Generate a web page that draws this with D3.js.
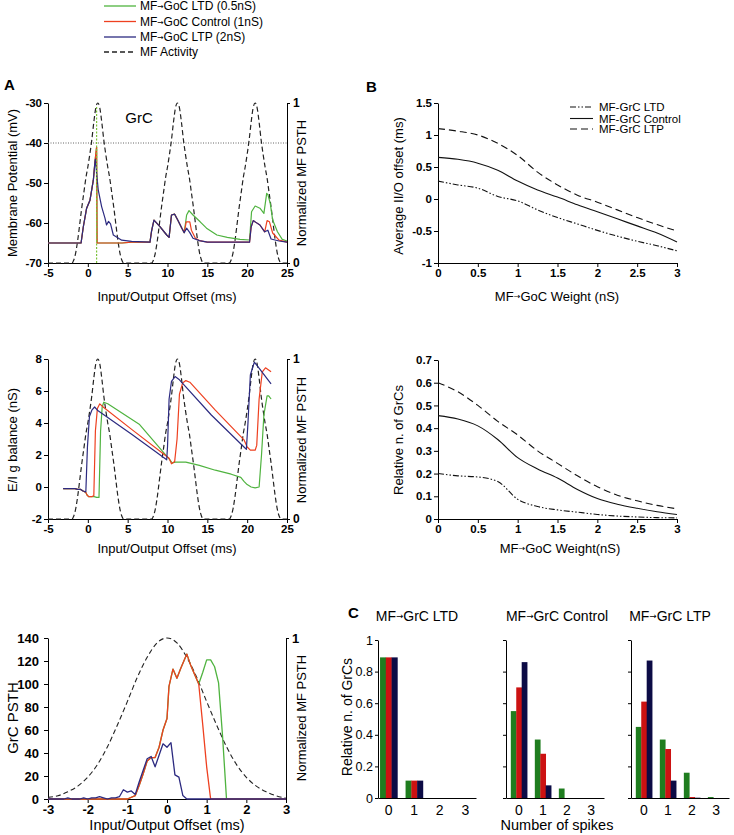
<!DOCTYPE html>
<html><head><meta charset="utf-8">
<script src="https://cdn.jsdelivr.net/npm/d3@7"></script>
<style>body{margin:0;background:#fff}svg{display:block}</style>
</head><body><svg id="c" width="734" height="835"></svg>
<script>
// ---------------- DATA ----------------
const legendLabels = ["MF\u2192GoC LTD (0.5nS)", "MF\u2192GoC Control (1nS)", "MF\u2192GoC LTP (2nS)", "MF Activity"];
const offsetTicks = [-5, 0, 5, 10, 15, 20, 25];
const vmTicks = [-70, -60, -50, -40, -30];
const gTicks = [-2, 0, 2, 4, 6, 8];
const psthTicks = [0, 20, 40, 60, 80, 100, 120, 140];
const psthOffsetTicks = [-3, -2, -1, 0, 1, 2, 3];
const threshold = -40;
const greenSpikeTime = 1.1;

// MF activity (normalized PSTH), time in ms
const mfActivity = [[-5,0],[-2.0,0],[-1.75,0.02],[-1.5,0.07],[-1.25,0.15],[-1.0,0.25],[-0.75,0.35],[-0.5,0.44],[-0.25,0.53],[0,0.6],[0.25,0.68],[0.5,0.77],[0.75,0.88],[1.0,0.97],[1.25,1.0],[1.5,0.97],[1.75,0.88],[2.0,0.77],[2.25,0.68],[2.5,0.6],[2.75,0.53],[3.0,0.44],[3.25,0.35],[3.5,0.25],[3.75,0.15],[4.0,0.07],[4.25,0.02],[4.5,0],
  [8.0,0],[8.25,0.02],[8.5,0.07],[8.75,0.15],[9.0,0.25],[9.25,0.35],[9.5,0.44],[9.75,0.53],[10,0.6],[10.25,0.68],[10.5,0.77],[10.75,0.88],[11,0.97],[11.25,1],[11.5,0.97],[11.75,0.88],[12,0.77],[12.25,0.68],[12.5,0.6],[12.75,0.53],[13,0.44],[13.25,0.35],[13.5,0.25],[13.75,0.15],[14,0.07],[14.25,0.02],[14.5,0],
  [17.75,0],[18,0.02],[18.25,0.07],[18.5,0.15],[18.75,0.25],[19,0.35],[19.25,0.44],[19.5,0.53],[19.75,0.6],[20,0.68],[20.25,0.77],[20.5,0.88],[20.75,0.97],[21,1],[21.25,0.97],[21.5,0.88],[21.75,0.77],[22,0.68],[22.25,0.6],[22.5,0.53],[22.75,0.44],[23,0.35],[23.25,0.25],[23.5,0.15],[23.75,0.07],[24,0.02],[24.25,0],[25,0]];

// Membrane potential traces (ms, mV)
const vmStart = [[-5,-65],[-0.85,-65],[-0.57,-61],[-0.15,-56.3],[0.27,-54.3],[0.69,-49.3],[0.9,-44.6]];
const vmMiddle = [[7.8,-64.8],[8.0,-62],[8.3,-59.3],[9.05,-60.9],[9.9,-63],[10.2,-63.6],[10.5,-58],[10.9,-57.8],[11.3,-59.3],[11.8,-61.3],[12.1,-62.4]];
const vmBlue = vmStart.concat([[0.95,-44],[1.1,-47.5],[1.31,-51.8],[1.73,-55.9],[2.15,-58.8],[2.35,-60.5],[2.6,-59.6],[2.85,-60.2],[3.2,-63],[4.25,-64.3],[5.5,-64.6]], vmMiddle,
  [[12.4,-61.3],[12.8,-62.4],[13.2,-63.8],[14.0,-64.4],[15,-64.8],[20.3,-64.8],[20.5,-61],[20.76,-59.4],[21.6,-60.5],[22.2,-62.2],[22.6,-61.8],[23.0,-64.0],[24.0,-64.5],[25,-64.8]]);
const vmRed = vmStart.concat([[1.1,-41],[1.16,-65],[4.3,-65],[5.5,-64.8]], vmMiddle,
  [[12.35,-59.7],[12.8,-59.7],[13.0,-61.8],[13.5,-63.8],[14.0,-64.4],[15,-64.8],[20.3,-64.8],[20.5,-61],[20.76,-59.4],[21.6,-60.5],[22.2,-62.2],[22.5,-59.4],[22.8,-59.7],[23.2,-62.5],[24.0,-64.3],[25,-64.8]]);
const vmGreen = vmStart.concat([[1.1,-41],[1.16,-65],[4.3,-65],[5.5,-64.8]], vmMiddle,
  [[12.4,-58],[12.7,-56.9],[13.2,-58],[14.1,-59.7],[14.9,-61.3],[16.2,-63],[17.5,-63.6],[19.1,-64.1],[20.3,-64.25],[20.55,-57.2],[21.0,-55.75],[21.6,-56.3],[22.1,-57.6],[22.45,-52.6],[22.6,-52.9],[22.9,-55.1],[23.2,-59.25],[23.8,-62.2],[24.4,-64.1],[25,-64.5]]);

// E/I g balance (ms, nS)
const gBlue = [[-3.1,-0.1],[-1.6,-0.1],[-1.3,-0.15],[-0.9,-0.15],[-0.6,-0.25],[-0.25,-0.3],[-0.05,2.5],[0.2,4.4],[0.5,4.8],[0.85,5.0],[1.2,4.8],[5.5,3.3],[9.9,1.7],[10.0,2.5],[10.2,5.5],[10.5,6.6],[10.95,6.9],[11.5,6.7],[15.5,4.5],[19.6,2.5],[19.9,2.35],[20.1,4.0],[20.4,7.0],[20.9,7.8],[21.3,7.55],[23.0,6.45]];
const gRed = [[-3.1,-0.1],[-1.6,-0.1],[-1.3,-0.15],[-0.9,-0.15],[-0.6,-0.25],[-0.25,-0.35],[-0.1,-0.5],[0.1,-0.6],[0.5,-0.6],[0.75,-0.55],[0.95,3.5],[1.2,4.9],[1.5,5.2],[1.8,5.05],[5.5,3.6],[10.2,1.8],[10.5,1.45],[10.9,1.6],[11.2,3.0],[11.5,5.8],[11.9,6.5],[12.3,6.65],[12.8,6.55],[16,4.8],[19.6,2.95],[20.0,2.5],[20.4,2.3],[21.0,2.3],[21.2,2.6],[21.5,5.5],[21.9,7.2],[22.3,7.45],[23.0,7.2]];
const gGreen = [[-3.1,-0.1],[-1.6,-0.1],[-1.3,-0.15],[-0.9,-0.15],[-0.6,-0.25],[-0.25,-0.35],[-0.1,-0.5],[0.1,-0.6],[0.5,-0.6],[0.8,-0.6],[1.1,-0.65],[1.4,-0.65],[1.6,3.5],[1.8,5.0],[2.0,5.3],[2.5,5.2],[6.5,3.9],[10.3,1.7],[10.6,1.5],[11,1.55],[12.3,1.55],[14,1.35],[16,1.05],[18,0.8],[19.2,0.6],[19.6,0.35],[20.0,0.15],[20.5,0.0],[21.0,-0.05],[21.5,0.0],[21.8,2.0],[22.1,4.5],[22.5,5.7],[22.7,5.7],[23.0,5.5]];

// GrC PSTH (ms, count) and MF PSTH (normalized)
const mfPsth = [[-3,0.01],[-2.75,0.02],[-2.5,0.045],[-2.25,0.08],[-2,0.135],[-1.75,0.215],[-1.5,0.325],[-1.25,0.46],[-1,0.605],[-0.75,0.755],[-0.5,0.88],[-0.25,0.97],[0,1.0],[0.25,0.97],[0.5,0.88],[0.75,0.755],[1,0.605],[1.25,0.46],[1.5,0.325],[1.75,0.215],[2,0.135],[2.25,0.08],[2.5,0.045],[2.75,0.02],[3,0.005]];
const psthBlue = [[-3,0],[-2.9,0],[-2.8,0],[-2.7,0],[-2.6,0],[-2.5,1],[-2.4,0],[-2.3,0],[-2.2,0],[-2.1,1],[-2.0,0],[-1.9,1],[-1.8,1],[-1.7,2],[-1.6,1],[-1.5,0],[-1.4,1],[-1.3,1],[-1.2,2],[-1.1,8],[-1.0,6],[-0.9,7],[-0.8,4],[-0.7,15],[-0.6,25],[-0.5,35],[-0.4,37],[-0.3,28],[-0.2,38],[-0.1,48],[0,45],[0.1,49],[0.2,21],[0.3,19],[0.4,3],[0.5,0],[3,0]];
const psthRed = [[-3,0],[-1.0,0],[-0.8,3],[-0.7,12],[-0.6,22],[-0.5,33],[-0.4,36],[-0.3,36],[-0.2,45],[-0.1,60],[0,70],[0.05,98],[0.15,113],[0.25,105],[0.35,114],[0.5,126],[0.6,116],[0.7,108],[0.8,100],[0.9,65],[1.0,28],[1.1,0],[3,0]];
const psthGreen = [[-3,0],[-1.0,0],[-0.8,3],[-0.7,12],[-0.6,22],[-0.5,33],[-0.4,36],[-0.3,36],[-0.2,45],[-0.1,60],[0,70],[0.05,98],[0.15,113],[0.25,105],[0.35,114],[0.5,126],[0.6,116],[0.7,108],[0.8,100],[0.9,110],[1.0,121],[1.1,121],[1.2,115],[1.3,101],[1.4,55],[1.5,0],[3,0]];

// Panel B (MF->GoC weight, nS)
const weights = [0,0.25,0.5,0.75,1,1.25,1.5,1.75,2,2.25,2.5,2.75,3];
const weightTicks = [0,0.5,1,1.5,2,2.5,3];
const offsetLTD = [0.28,0.22,0.17,0.04,-0.03,-0.17,-0.29,-0.39,-0.49,-0.58,-0.66,-0.73,-0.81];
const offsetControl = [0.65,0.62,0.56,0.45,0.28,0.14,0.03,-0.09,-0.2,-0.31,-0.42,-0.53,-0.67];
const offsetLTP = [1.10,1.06,1.0,0.87,0.68,0.42,0.22,0.06,-0.05,-0.17,-0.29,-0.4,-0.5];
const fracLTD = [0.2,0.19,0.185,0.165,0.087,0.055,0.04,0.03,0.02,0.013,0.009,0.006,0.005];
const fracControl = [0.455,0.44,0.41,0.35,0.27,0.22,0.18,0.13,0.09,0.065,0.047,0.032,0.02];
const fracLTP = [0.6,0.56,0.5,0.43,0.37,0.3,0.245,0.19,0.142,0.105,0.08,0.06,0.045];
const bLegend = ["MF-GrC LTD", "MF-GrC Control", "MF-GrC LTP"];

// Panel C: fraction of GrCs by number of spikes
const spikeCounts = ["0","1","2","3"];
const cTitles = ["MF\u2192GrC LTD", "MF\u2192GrC Control", "MF\u2192GrC LTP"];
const barsLTD = { green: [0.89,0.11,0,0], red: [0.89,0.11,0,0], navy: [0.89,0.11,0,0] };
const barsControl = { green: [0.55,0.37,0.06,0], red: [0.70,0.28,0,0], navy: [0.86,0.08,0,0] };
const barsLTP = { green: [0.45,0.37,0.16,0.006], red: [0.61,0.31,0.006,0], navy: [0.87,0.11,0.002,0] };

// ---------------- DRAW ----------------
const F = '"Liberation Sans", Arial, Helvetica, sans-serif';
const COL = { green: "#4fb33f", red: "#ee4020", blue: "#2c2a80" };
const BAR = { green: "#1f7d1f", red: "#cc1212", navy: "#0c0b45" };
const fmt = d => String(d);
const svg = d3.select("#c").attr("font-family", F);

function text(x, y, s, o = {}) {
  const t = svg.append("text").attr("x", x).attr("y", y)
    .attr("font-size", o.size || 13).attr("font-weight", o.bold ? "bold" : "normal")
    .attr("text-anchor", o.anchor || "middle").attr("dominant-baseline", o.base || "central").attr("fill", "#000");
  const parts = s.split("\u2192");
  parts.forEach((p, i) => {
    if (i > 0) t.append("tspan").attr("font-size", (o.size || 13) * 0.62).attr("font-family", "DejaVu Sans").text("\u2192");
    t.append("tspan").text(p);
  });
  if (o.rot) t.attr("transform", `rotate(${o.rot},${x},${y})`);
  return t;
}
function styleAxis(g, size, bold) {
  g.attr("font-family", F).attr("font-size", size);
  g.selectAll("text").attr("font-weight", bold ? "bold" : "normal").attr("fill", "#000");
  g.selectAll("line,path").attr("stroke", "#000").attr("stroke-width", 1);
}
function pathLine(data, x, y, color, w, dash, curve) {
  const ln = d3.line().x(d => x(d[0])).y(d => y(d[1])).curve(curve || d3.curveLinear);
  const p = svg.append("path").datum(data).attr("d", ln).attr("fill", "none")
    .attr("stroke", color).attr("stroke-width", w).attr("stroke-linejoin", "round");
  if (dash) p.attr("stroke-dasharray", dash);
  return p;
}

// Top legend
legendLabels.forEach((l, i) => {
  const yy = [6, 21.5, 37, 52][i];
  const c = [COL.green, COL.red, COL.blue, "#222"][i];
  svg.append("line").attr("x1", 104).attr("x2", 136).attr("y1", yy).attr("y2", yy)
    .attr("stroke", c).attr("stroke-width", 1.3).attr("stroke-dasharray", i === 3 ? "5,3" : null);
  text(140, yy, l, { size: 12, anchor: "start" });
});

// Panel labels
text(4, 84, "A", { size: 15, bold: true, anchor: "start" });
text(366, 86, "B", { size: 15, bold: true, anchor: "start" });
text(348, 612, "C", { size: 15, bold: true, anchor: "start" });

// ---- A1 membrane potential ----
const xA = d3.scaleLinear().domain([-5, 25]).range([48, 287]);
const yA1 = d3.scaleLinear().domain([-70, -30]).range([263, 103]);
const yA1r = d3.scaleLinear().domain([0, 1]).range([263, 103]);
styleAxis(svg.append("g").attr("transform", "translate(48,0)").call(d3.axisLeft(yA1).tickValues(vmTicks).tickFormat(fmt).tickSize(4).tickSizeOuter(0).tickPadding(2)), 11.5, true);
styleAxis(svg.append("g").attr("transform", "translate(0,263)").call(d3.axisBottom(xA).tickValues(offsetTicks).tickFormat(fmt).tickSize(4).tickSizeOuter(0).tickPadding(2)), 11.5, true);
styleAxis(svg.append("g").attr("transform", "translate(287,0)").call(d3.axisRight(yA1r).tickValues([0, 1]).tickFormat(fmt).tickSize(3).tickSizeOuter(0).tickPadding(3)), 12, true);
svg.append("line").attr("x1", xA(-5)).attr("x2", xA(25)).attr("y1", yA1(threshold)).attr("y2", yA1(threshold))
  .attr("stroke", "#666").attr("stroke-dasharray", "1,1.5").attr("stroke-width", 1);
pathLine(mfActivity, xA, yA1r, "#222", 1.2, "5,3", d3.curveMonotoneX);
pathLine(vmGreen, xA, yA1, COL.green, 1.2);
pathLine(vmRed, xA, yA1, COL.red, 1.2);
pathLine(vmBlue, xA, yA1, COL.blue, 1.2);
svg.append("line").attr("x1", xA(greenSpikeTime)).attr("x2", xA(greenSpikeTime)).attr("y1", yA1(-70)).attr("y2", yA1(-31))
  .attr("stroke", "#7cc23a").attr("stroke-width", 1.2).attr("stroke-dasharray", "2,1.5");
text(139, 117, "GrC", { size: 15 });
text(12, 183, "Membrane Potential (mV)", { size: 13, rot: -90 });
text(301, 183, "Normalized MF PSTH", { size: 13, rot: -90 });
text(167, 296, "Input/Output Offset (ms)", { size: 13 });

// ---- A2 E/I balance ----
const yA2 = d3.scaleLinear().domain([-2, 8]).range([519, 359]);
const yA2r = d3.scaleLinear().domain([0, 1]).range([519, 359]);
styleAxis(svg.append("g").attr("transform", "translate(48,0)").call(d3.axisLeft(yA2).tickValues(gTicks).tickFormat(fmt).tickSize(4).tickSizeOuter(0).tickPadding(2)), 11.5, true);
styleAxis(svg.append("g").attr("transform", "translate(0,519)").call(d3.axisBottom(xA).tickValues(offsetTicks).tickFormat(fmt).tickSize(4).tickSizeOuter(0).tickPadding(2)), 11.5, true);
styleAxis(svg.append("g").attr("transform", "translate(287,0)").call(d3.axisRight(yA2r).tickValues([0, 1]).tickFormat(fmt).tickSize(3).tickSizeOuter(0).tickPadding(3)), 12, true);
pathLine(mfActivity, xA, yA2r, "#222", 1.2, "5,3", d3.curveMonotoneX);
pathLine(gGreen, xA, yA2, COL.green, 1.2);
pathLine(gRed, xA, yA2, COL.red, 1.2);
pathLine(gBlue, xA, yA2, COL.blue, 1.2);
text(12, 440, "E/I g balance (nS)", { size: 13, rot: -90 });
text(301, 440, "Normalized MF PSTH", { size: 13, rot: -90 });
text(167, 548, "Input/Output Offset (ms)", { size: 13 });

// ---- A3 PSTH ----
const xA3 = d3.scaleLinear().domain([-3, 3]).range([48, 286]);
const yA3 = d3.scaleLinear().domain([0, 140]).range([799, 638]);
const yA3r = d3.scaleLinear().domain([0, 1]).range([799, 638]);
styleAxis(svg.append("g").attr("transform", "translate(48,0)").call(d3.axisLeft(yA3).tickValues(psthTicks).tickFormat(fmt).tickSize(4).tickSizeOuter(0).tickPadding(5)), 13, true);
styleAxis(svg.append("g").attr("transform", "translate(0,799)").call(d3.axisBottom(xA3).tickValues(psthOffsetTicks).tickFormat(fmt).tickSize(4).tickSizeOuter(0).tickPadding(2)), 13, true);
styleAxis(svg.append("g").attr("transform", "translate(286,0)").call(d3.axisRight(yA3r).tickValues([1]).tickFormat(fmt).tickSize(3).tickSizeOuter(0).tickPadding(3)), 13, true);
pathLine(mfPsth, xA3, yA3r, "#222", 1.1, "5,3", d3.curveMonotoneX);
pathLine(psthGreen, xA3, yA3, COL.green, 1.3);
pathLine(psthRed, xA3, yA3, COL.red, 1.3);
pathLine(psthBlue, xA3, yA3, COL.blue, 1.3);
text(12, 718, "GrC PSTH", { size: 15, rot: -90 });
text(301, 718, "Normalized MF PSTH", { size: 13, rot: -90 });
text(167, 825, "Input/Output Offset (ms)", { size: 14.5 });

// ---- B panels ----
const xB = d3.scaleLinear().domain([0, 3]).range([438, 677]);
const dashB = [ "6,2,1.5,2,1.5,2", null, "7,4" ];
function bPanel(y, ticks, series, y0) {
  styleAxis(svg.append("g").attr("transform", "translate(438,0)").call(d3.axisLeft(y).tickValues(ticks).tickFormat(fmt).tickSize(4).tickSizeOuter(0).tickPadding(2)), 11.5, true);
  styleAxis(svg.append("g").attr("transform", `translate(0,${y0})`).call(d3.axisBottom(xB).tickValues(weightTicks).tickFormat(fmt).tickSize(4).tickSizeOuter(0).tickPadding(2)), 11.5, true);
  series.forEach((s, i) => pathLine(weights.map((w, j) => [w, s[j]]), xB, y, "#111", 1.1, dashB[i], d3.curveMonotoneX));
}
const yB1 = d3.scaleLinear().domain([-1, 1.5]).range([263, 103]);
bPanel(yB1, [-1, -0.5, 0, 0.5, 1, 1.5], [offsetLTD, offsetControl, offsetLTP], 263);
bLegend.forEach((l, i) => {
  const yy = [107, 118.5, 129][i];
  const ln = svg.append("line").attr("x1", 570).attr("x2", 593).attr("y1", yy).attr("y2", yy).attr("stroke", "#111").attr("stroke-width", 1.1);
  if (dashB[i]) ln.attr("stroke-dasharray", dashB[i]);
  text(599, yy, l, { size: 11.5, anchor: "start" });
});
text(398, 186, "Average II/O offset (ms)", { size: 13, rot: -90 });
text(557, 296, "MF\u2192GoC Weight (nS)", { size: 13 });

const yB2 = d3.scaleLinear().domain([0, 0.7]).range([519, 360]);
bPanel(yB2, [0, 0.1, 0.2, 0.3, 0.4, 0.5, 0.6, 0.7], [fracLTD, fracControl, fracLTP], 519);
text(398, 440, "Relative n. of GrCs", { size: 13, rot: -90 });
text(560, 548, "MF\u2192GoC Weight(nS)", { size: 13 });

// ---- C bar charts ----
const yC = d3.scaleLinear().domain([0, 1]).range([798, 640]);
const cCharts = [
  { ax: 378, pad: 0.08, data: barsLTD, title: cTitles[0], tx: 417, labels: true },
  { ax: 506, pad: 0.2, data: barsControl, title: cTitles[1], tx: 557, labels: false },
  { ax: 631, pad: 0.2, data: barsLTP, title: cTitles[2], tx: 670, labels: false }
];
cCharts.forEach(c => {
  const xb = d3.scaleBand().domain(spikeCounts).range([c.ax, c.ax + 98]).paddingInner(0.32).paddingOuter(c.pad);
  const xs = d3.scaleBand().domain(["green", "red", "navy"]).range([0, xb.bandwidth()]);
  ["green", "red", "navy"].forEach(k => {
    svg.append("g").selectAll("rect").data(c.data[k]).join("rect")
      .attr("x", (d, i) => xb(spikeCounts[i]) + xs(k)).attr("width", xs.bandwidth() + 0.3)
      .attr("y", d => yC(d)).attr("height", d => yC(0) - yC(d)).attr("fill", BAR[k]);
  });
  const ya = d3.axisLeft(yC).tickValues([0, 0.2, 0.4, 0.6, 0.8, 1]).tickSize(3).tickSizeOuter(0).tickPadding(2)
    .tickFormat(c.labels ? fmt : "");
  styleAxis(svg.append("g").attr("transform", `translate(${c.ax},0)`).call(ya), 12.5, false);
  styleAxis(svg.append("g").attr("transform", "translate(0,798)").call(d3.axisBottom(xb).tickSize(0).tickSizeOuter(0).tickPadding(7)), 14, false);
  text(c.tx, 616, c.title, { size: 14 });
});
text(347, 717, "Relative n. of GrCs", { size: 14, rot: -90 });
text(557, 825, "Number of spikes", { size: 14.5 });
</script></body></html>
